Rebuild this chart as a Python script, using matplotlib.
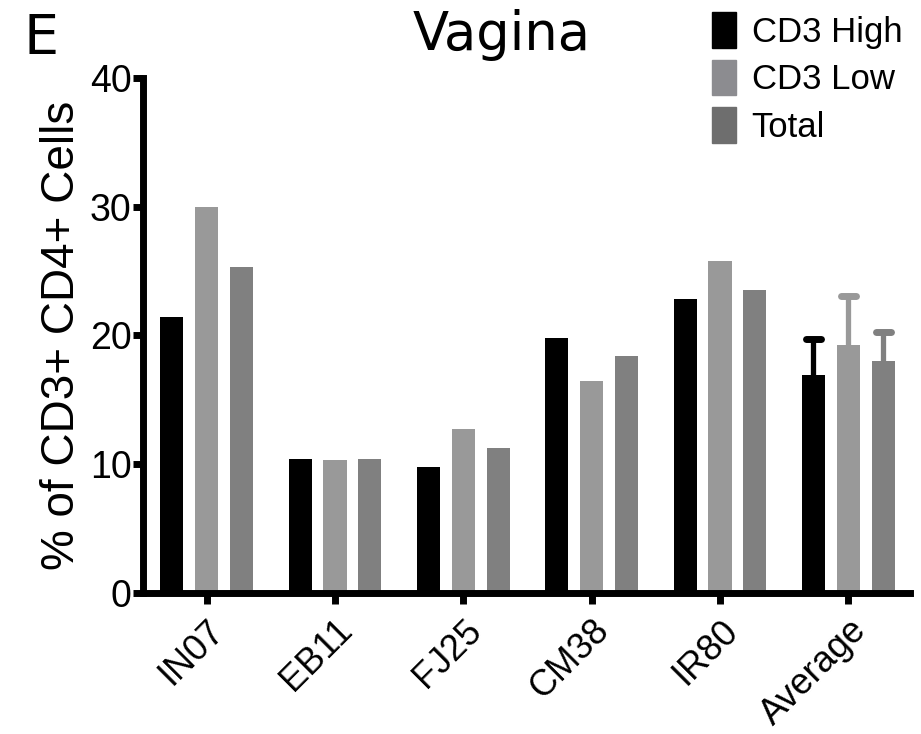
import numpy as np
import matplotlib
matplotlib.use("Agg")
import matplotlib.pyplot as plt
from matplotlib.patches import Patch

plt.rcParams['font.family'] = ['Liberation Sans', 'DejaVu Sans']

# data
samples = ["IN07", "EB11", "FJ25", "CM38", "IR80", "Average"]
cd3_high = [21.4, 10.4, 9.8, 19.8, 22.8, 16.9]
cd3_low = [30.0, 10.3, 12.7, 16.5, 25.8, 19.25]
total = [25.3, 10.4, 11.3, 18.4, 23.5, 18.05]
# SEM, only for the Average group
high_err = [0, 0, 0, 0, 0, 2.8]
low_err = [0, 0, 0, 0, 0, 3.85]
total_err = [0, 0, 0, 0, 0, 2.25]

fig = plt.figure(figsize=(9.21, 7.34), dpi=100)
ax = fig.add_axes([0.155, 0.192, 0.833, 0.702])

x = np.arange(len(samples))
w = 0.18
off = 0.272
cap = 0.06
series = [(cd3_high, high_err, "#000000", -off),
          (cd3_low, low_err, "#999999", 0),
          (total, total_err, "#808080", off)]
for vals, err, col, dx in series:
    ax.bar(x + dx, vals, width=w, color=col, zorder=2)
    e = np.array(err)
    v = np.array(vals)
    m = e > 0
    xs = (x + dx)[m]
    ax.vlines(xs, v[m], v[m] + e[m], color=col, linewidth=3.8, zorder=1)
    ax.hlines(v[m] + e[m], xs - cap, xs + cap, color=col, linewidth=5,
              capstyle='round', zorder=1)

ax.set_ylim(0, 40)
ax.set_xlim(-0.498, 5.48)
ax.set_yticks([0, 10, 20, 30, 40])
ax.set_xticks(x)
ax.set_xticklabels(samples, rotation=45, ha='right', rotation_mode='anchor',
                   fontsize=26)
ax.tick_params(axis='y', labelsize=27, width=5, length=7, pad=1)
ax.tick_params(axis='x', width=5, length=8, pad=6)
for s in ['top', 'right']:
    ax.spines[s].set_visible(False)
for s in ['left', 'bottom']:
    ax.spines[s].set_linewidth(5)
ax.set_ylabel("% of CD3+ CD4+ Cells", fontsize=33, labelpad=4)

fig.text(0.545, 0.952, "Vagina", fontsize=38, family='DejaVu Sans',
         ha='center', va='center')
fig.text(0.045, 0.947, "E", fontsize=40, family='DejaVu Sans',
         ha='center', va='center')

handles = [Patch(color="#000000"), Patch(color="#8c8c90"), Patch(color="#6e6e6e")]
fig.legend(handles, ["CD3 High", "CD3 Low", "Total"], loc='upper left',
           bbox_to_anchor=(0.750, 1.012), frameon=False, fontsize=25,
           handlelength=0.7, handleheight=1.2, handletextpad=0.45,
           labelspacing=0.32, borderaxespad=0.2)

fig.savefig("out.png", dpi=100)
